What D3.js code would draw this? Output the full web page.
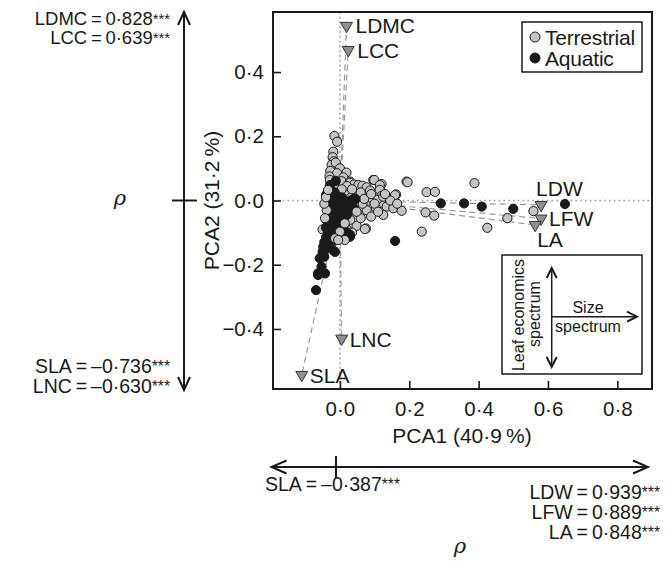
<!DOCTYPE html>
<html><head><meta charset="utf-8">
<script src="https://cdn.jsdelivr.net/npm/d3@7"></script>
<style>
html,body{margin:0;padding:0;background:#fff;}
text{font-family:"Liberation Sans",Arial,Helvetica,sans-serif;fill:#1a1a1a;}
</style></head>
<body>
<svg id="chart" width="671" height="561"></svg>
<script>
// ---------- DATA ----------
const xTicks = [0.0, 0.2, 0.4, 0.6, 0.8];
const yTicks = [-0.4, -0.2, 0.0, 0.2, 0.4];
const xLabel = "PCA1 (40·9\u2009%)";
const yLabel = "PCA2 (31·2\u2009%)";
const legendLabels = ["Terrestrial", "Aquatic"];

// terrestrial species drawn below aquatic
const terrestrial = [
  [-0.016,0.201],[-0.008,0.183],[-0.019,0.152],[-0.021,0.135],[-0.018,0.122],[-0.024,0.111],[-0.012,0.118],
  [0.0,0.1],[-0.028,0.092],[-0.008,0.085],[0.019,0.087],[0.01,0.072],[-0.03,0.075],
  [-0.029,0.064],[0.005,0.06],[0.029,0.059],[0.029,0.055],[0.041,0.05],[0.053,0.048],[0.065,0.046],
  [0.077,0.041],[0.087,0.031],[0.096,0.064],[0.099,0.064],[0.12,0.051],[0.115,0.048],[0.12,0.027],
  [0.115,0.033],[0.192,0.059],[0.195,0.057],[0.388,0.054],[0.25,0.026],[0.274,0.027],[0.162,0.019],
  [0.159,0.017],[0.12,0.014],[0.139,-0.004],[0.12,-0.009],[0.053,0.012],[0.05,0.012],[0.077,-0.004],
  [0.106,0.002],[0.125,0.012],[0.135,-0.019],[0.154,-0.024],[0.178,-0.032],[0.104,-0.024],[0.077,-0.03],
  [0.125,-0.045],[0.048,-0.035],[0.019,-0.05],[0.048,-0.079],[0.075,-0.087],[0.072,-0.089],
  [0.236,-0.097],[0.247,-0.037],[0.272,-0.047],
  [0.425,-0.085],[0.483,-0.055],[0.558,-0.033],
  [-0.035,-0.08],[-0.03,-0.11],[-0.025,-0.14],[-0.02,-0.155],[0.03,0.02],[0.06,0.025],[0.085,0.01],
  [0.1,-0.01],[0.065,-0.01],[0.04,-0.015],[0.09,-0.05],[0.03,-0.06],[0.06,-0.055],[-0.05,-0.09],
  [0.0,-0.06],[0.02,-0.09],[0.035,-0.1],[0.015,0.03],[0.02,0.045],[-0.015,0.04],[0.005,0.035],
  [0.035,0.035],[0.07,0.005],[0.11,-0.035],[0.145,0.0],[0.13,0.02],[0.165,-0.01],[0.09,0.02]
];
// terrestrial species drawn above aquatic
const terrestrialTop = [
  [-0.038,-0.03],[-0.043,-0.055],[-0.045,-0.01],[-0.04,0.01],[-0.034,0.033],
  [0.014,-0.071],[0.0,-0.097],[0.014,-0.123],[-0.014,-0.118],[-0.005,-0.123],[0.048,-0.035]
];

const aquatic = [
  [0.291,-0.009],[0.358,-0.009],[0.409,-0.019],[0.5,-0.026],[0.649,-0.011],[0.159,-0.126],
  [-0.012,0.061],[-0.029,0.048],[-0.04,0.017],[-0.029,0.038],[0.034,-0.03],[0.029,-0.107],[0.029,-0.113],
  [-0.014,-0.16],[-0.048,-0.144],[-0.058,-0.18],[-0.053,-0.206],[-0.063,-0.227],[-0.043,-0.227],
  [-0.069,-0.279],[-0.063,-0.232],
  [0.04,0.005],[0.03,0.0],[0.02,-0.005],[0.035,-0.015],[0.025,-0.02],[0.01,-0.01],[0.0,-0.015],
  [0.015,-0.03],[0.005,-0.04],[-0.005,-0.03],[-0.015,-0.035],[-0.01,-0.05],[0.0,-0.055],[-0.02,-0.06],
  [-0.025,-0.045],[-0.015,-0.075],[-0.005,-0.08],[-0.025,-0.085],[-0.03,-0.07],[-0.02,-0.1],[-0.035,-0.1],
  [-0.03,-0.12],[-0.04,-0.115],[-0.02,-0.125],[-0.035,-0.135],[-0.045,-0.13],[-0.04,-0.15],[-0.03,-0.145],
  [-0.05,-0.16],[-0.045,-0.175],[0.01,0.0],[-0.005,0.0],[-0.02,-0.01],[-0.03,-0.02],[-0.03,-0.005],
  [-0.01,0.015],[0.005,0.01],[0.045,0.005],[0.04,-0.025],[0.02,-0.045],[0.01,-0.065],[-0.01,-0.09],
  [-0.04,-0.06],[-0.035,-0.04],[-0.04,-0.085],[0.01,-0.085],[-0.008,-0.105],[-0.015,0.025],
  [-0.02,0.005],[0.02,-0.1]
];

const loadingNames = ["LDMC","LCC","LDW","LFW","LA","LNC","SLA"];
const loadingX = [0.019, 0.024, 0.58, 0.58, 0.563, 0.005, -0.11];
const loadingY = [0.544, 0.469, -0.014, -0.056, -0.076, -0.43, -0.543];

const leftTop = [["LDMC", "0·828"], ["LCC", "0·639"]];
const leftBottom = [["SLA", "–0·736"], ["LNC", "–0·630"]];
const bottomLeft = [["SLA", "–0·387"]];
const bottomRight = [["LDW", "0·939"], ["LFW", "0·889"], ["LA", "0·848"]];
const signif = "***";

// ---------- LAYOUT ----------
const svg = d3.select("#chart");
const L = 273, R = 652, T = 12, B = 389;
const x = d3.scaleLinear().domain([-0.193, 0.9]).range([L, R]);
const y = d3.scaleLinear().domain([-0.587, 0.587]).range([B, T]);
const ink = "#1a1a1a";
const grayFill = "#c4c4c4";
const fmt = v => d3.format(".1f")(v).replace(".", "·").replace("-", "–");

// reference lines
const g = svg.append("g");
g.append("line").attr("x1", L).attr("x2", R).attr("y1", y(0)).attr("y2", y(0))
  .attr("stroke", "#9a9a9a").attr("stroke-width", 1.6).attr("stroke-dasharray", "1.6,3.2");
g.append("line").attr("x1", x(0)).attr("x2", x(0)).attr("y1", T).attr("y2", B)
  .attr("stroke", "#9a9a9a").attr("stroke-width", 1.6).attr("stroke-dasharray", "1.6,3.2");

// loading dashed lines
const loadings = loadingNames.map((n, i) => ({name: n, x: loadingX[i], y: loadingY[i]}));
g.selectAll(".ld").data(loadings).join("line")
  .attr("x1", x(0)).attr("y1", y(0)).attr("x2", d => x(d.x)).attr("y2", d => y(d.y))
  .attr("stroke", "#9a9a9a").attr("stroke-width", 1.2).attr("stroke-dasharray", "6,4");

// points
const pts = g.append("g");
pts.selectAll(".t").data(terrestrial).join("circle").attr("class", "t")
  .attr("cx", d => x(d[0])).attr("cy", d => y(d[1])).attr("r", 4.6)
  .attr("fill", grayFill).attr("stroke", ink).attr("stroke-width", 1);
pts.selectAll(".a").data(aquatic).join("circle").attr("class", "a")
  .attr("cx", d => x(d[0])).attr("cy", d => y(d[1])).attr("r", 4.6)
  .attr("fill", ink).attr("stroke", ink).attr("stroke-width", 1);
pts.selectAll(".tt").data(terrestrialTop).join("circle").attr("class", "tt")
  .attr("cx", d => x(d[0])).attr("cy", d => y(d[1])).attr("r", 4.6)
  .attr("fill", grayFill).attr("stroke", ink).attr("stroke-width", 1);

// loading triangles
const tri = d3.symbol().type(d3.symbolTriangle).size(62);
g.selectAll(".tri").data(loadings).join("path")
  .attr("d", tri)
  .attr("transform", d => `translate(${x(d.x)},${y(d.y)}) rotate(180)`)
  .attr("fill", "#8f8f8f").attr("stroke", "#333").attr("stroke-width", 1);
const labelOffset = {LDMC:[9,7], LCC:[9,8], LDW:[-5,-9], LFW:[8,8], LA:[2,22], LNC:[8,8], SLA:[8,8]};
g.selectAll(".ll").data(loadings).join("text")
  .attr("x", d => x(d.x) + labelOffset[d.name][0])
  .attr("y", d => y(d.y) + labelOffset[d.name][1])
  .attr("font-size", 21).text(d => d.name);

// axes
const xAxis = d3.axisBottom(x).tickValues(xTicks).tickFormat(fmt).tickSize(-8).tickPadding(12);
const yAxis = d3.axisLeft(y).tickValues(yTicks).tickFormat(fmt).tickSize(-8).tickPadding(9);
const gx = svg.append("g").attr("transform", `translate(0,${B})`).call(xAxis);
const gy = svg.append("g").attr("transform", `translate(${L},0)`).call(yAxis);
[gx, gy].forEach(a => {
  a.select(".domain").remove();
  a.selectAll(".tick line").attr("stroke", ink).attr("stroke-width", 1.6);
  a.selectAll(".tick text").attr("font-size", 20.5).attr("fill", ink)
    .style("font-family", '"Liberation Sans",Arial,sans-serif');
});
gx.selectAll(".tick text").attr("dy", "0.71em");
// frame
svg.append("rect").attr("x", L).attr("y", T).attr("width", R - L).attr("height", B - T)
  .attr("fill", "none").attr("stroke", ink).attr("stroke-width", 2);

// axis labels
svg.append("text").attr("x", 462).attr("y", 443).attr("text-anchor", "middle")
  .attr("font-size", 21).text(xLabel);
svg.append("text").attr("transform", `translate(219,${(T + B) / 2}) rotate(-90)`)
  .attr("text-anchor", "middle").attr("font-size", 21).text(yLabel);

// legend
const lg = svg.append("g");
lg.append("rect").attr("x", 522).attr("y", 22).attr("width", 120).attr("height", 50)
  .attr("fill", "#fff").attr("stroke", ink).attr("stroke-width", 1.5);
lg.selectAll("circle").data(legendLabels).join("circle")
  .attr("cx", 535).attr("cy", (d, i) => 37 + i * 21).attr("r", 5)
  .attr("fill", (d, i) => i === 0 ? grayFill : ink).attr("stroke", ink).attr("stroke-width", 1);
lg.selectAll("text").data(legendLabels).join("text")
  .attr("x", 545).attr("y", (d, i) => 44.5 + i * 21).attr("font-size", 21)
  .attr("letter-spacing", -0.2).text(d => d);

// arrow helper (open chevron heads)
function arrowHead(sel, x0, y0, angle, len, half) {
  const a = angle * Math.PI / 180;
  const bx = x0 - len * Math.cos(a), by = y0 - len * Math.sin(a);
  const px = -Math.sin(a) * half, py = Math.cos(a) * half;
  sel.append("path")
    .attr("d", `M${bx + px},${by + py}L${x0},${y0}L${bx - px},${by - py}`)
    .attr("fill", "none").attr("stroke", ink).attr("stroke-width", 2);
}

// inset box
const ib = svg.append("g");
ib.append("rect").attr("x", 502).attr("y", 255).attr("width", 140).attr("height", 119)
  .attr("fill", "#fff").attr("stroke", ink).attr("stroke-width", 1.5);
ib.append("line").attr("x1", 551.7).attr("x2", 551.7).attr("y1", 268).attr("y2", 367)
  .attr("stroke", ink).attr("stroke-width", 1.5);
arrowHead(ib, 551.7, 268, -90, 10, 5);
arrowHead(ib, 551.7, 367, 90, 10, 5);
ib.append("line").attr("x1", 551.7).attr("x2", 637).attr("y1", 316.7).attr("y2", 316.7)
  .attr("stroke", ink).attr("stroke-width", 1.5);
arrowHead(ib, 637, 316.7, 0, 10, 5);
ib.append("text").attr("x", 588).attr("y", 312.5).attr("text-anchor", "middle").attr("font-size", 16).text("Size");
ib.append("text").attr("x", 588).attr("y", 332).attr("text-anchor", "middle").attr("font-size", 16).text("spectrum");
ib.append("text").attr("transform", "translate(524,315) rotate(-90)").attr("text-anchor", "middle")
  .attr("font-size", 16).text("Leaf economics");
ib.append("text").attr("transform", "translate(540,314) rotate(-90)").attr("text-anchor", "middle")
  .attr("font-size", 16).text("spectrum");

// correlation annotation text
function corrText(sel, xPos, yPos, pair, anchor, size) {
  const t = sel.append("text").attr("x", xPos).attr("y", yPos).attr("text-anchor", anchor).attr("font-size", size);
  t.append("tspan").text(pair[0] + "\u2009=\u2009" + pair[1]);
  t.append("tspan").attr("font-size", size * 0.8).attr("dy", -1).text(signif);
}
// left vertical arrow
const la = svg.append("g");
la.append("line").attr("x1", 184).attr("x2", 184).attr("y1", 13).attr("y2", 389)
  .attr("stroke", ink).attr("stroke-width", 2);
arrowHead(la, 184, 12, -90, 13, 6);
arrowHead(la, 184, 390, 90, 13, 6);
la.append("line").attr("x1", 172).attr("x2", 197).attr("y1", 200.5).attr("y2", 200.5)
  .attr("stroke", ink).attr("stroke-width", 2);
la.append("text").attr("x", 120).attr("y", 205).attr("text-anchor", "middle")
  .attr("font-size", 21).attr("font-style", "italic")
  .style("font-family", '"DejaVu Serif","Liberation Serif",serif').text("ρ");
leftTop.forEach((p, i) => corrText(la, 170, 24.5 + i * 19.5, p, "end", 18.5));
leftBottom.forEach((p, i) => corrText(la, 170, 373 + i * 20, p, "end", 19.5));

// bottom horizontal arrow
const ba = svg.append("g");
ba.append("line").attr("x1", 272).attr("x2", 647).attr("y1", 467).attr("y2", 467)
  .attr("stroke", ink).attr("stroke-width", 2);
arrowHead(ba, 271.5, 467, 180, 15, 6.5);
arrowHead(ba, 648, 467, 0, 15, 6.5);
ba.append("line").attr("x1", 336).attr("x2", 336).attr("y1", 456).attr("y2", 478)
  .attr("stroke", ink).attr("stroke-width", 2);
bottomLeft.forEach((p, i) => corrText(ba, 265, 491, p, "start", 19.5));
bottomRight.forEach((p, i) => corrText(ba, 660, 498.5 + i * 20, p, "end", 19.5));
ba.append("text").attr("x", 460).attr("y", 553).attr("text-anchor", "middle")
  .attr("font-size", 21).attr("font-style", "italic")
  .style("font-family", '"DejaVu Serif","Liberation Serif",serif').text("ρ");
</script>
</body></html>
